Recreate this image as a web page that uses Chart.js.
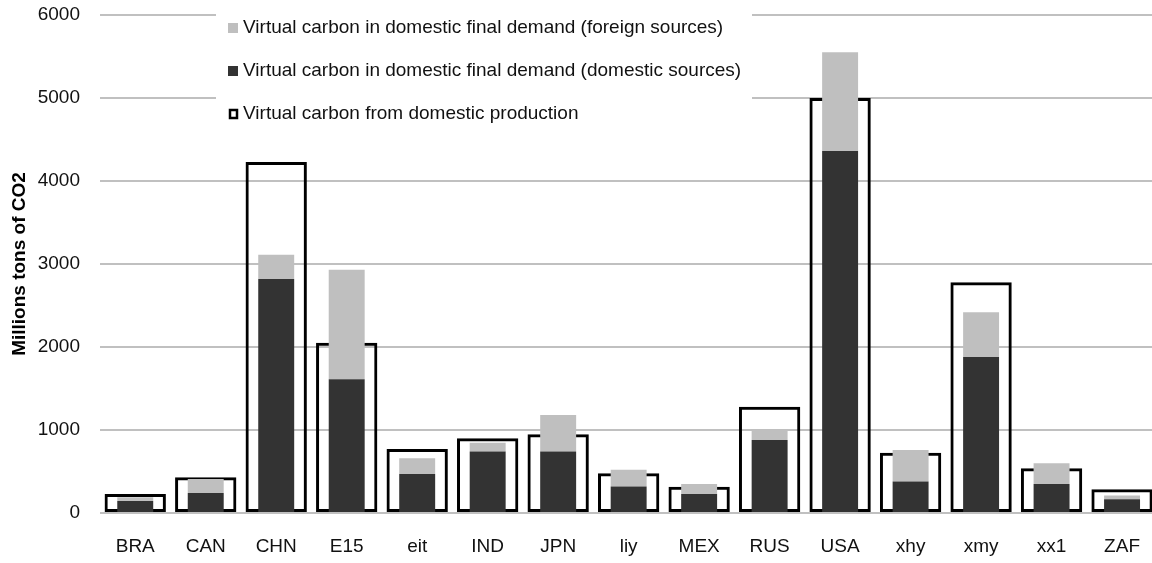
<!DOCTYPE html>
<html>
<head>
<meta charset="utf-8">
<script src="https://cdn.jsdelivr.net/npm/chart.js@4/dist/chart.umd.min.js"></script>
<style>
  html, body { margin: 0; padding: 0; background: #fff; overflow: hidden; }
  #wrap { width: 1162px; height: 563px; }
</style>
</head>
<body>
<div id="wrap"><canvas id="carbonChart"></canvas></div>
<script>
const regions = ['BRA', 'CAN', 'CHN', 'E15', 'eit', 'IND', 'JPN', 'liy', 'MEX', 'RUS', 'USA', 'xhy', 'xmy', 'xx1', 'ZAF'];
const domesticSources = [145, 240, 2820, 1610, 470, 740, 740, 320, 230, 880, 4360, 380, 1880, 350, 165];
const foreignSources = [45, 170, 290, 1320, 190, 105, 440, 200, 120, 130, 1190, 380, 540, 250, 45];
const domesticProduction = [230, 430, 4230, 2050, 770, 900, 950, 480, 315, 1280, 5000, 725, 2780, 540, 285];
const yTicks = [0, 1000, 2000, 3000, 4000, 5000, 6000];

const FONT = "'Liberation Sans', Arial, sans-serif";

// legend box painted over the gridlines, like the original
const legendBox = {
  id: 'legendBox',
  beforeDatasetsDraw(chart) {
    const ctx = chart.ctx;
    const items = [chart.data.datasets[1], chart.data.datasets[0], chart.data.datasets[2]];
    ctx.save();
    ctx.fillStyle = '#ffffff';
    ctx.fillRect(216, 0, 536, 135);
    ctx.font = '19px ' + FONT;
    ctx.textBaseline = 'middle';
    items.forEach((ds, i) => {
      const y = 28 + i * 43;
      if (ds.stack === 'outline') {
        ctx.strokeStyle = '#000';
        ctx.lineWidth = 2.5;
        ctx.strokeRect(230, y - 4, 7, 8);
      } else {
        ctx.fillStyle = ds.backgroundColor;
        ctx.fillRect(228, y - 5, 10, 10);
      }
      ctx.fillStyle = '#111';
      ctx.fillText(ds.label, 243, y);
    });
    ctx.restore();
  }
};

const ctx = document.getElementById('carbonChart').getContext('2d');
new Chart(ctx, {
  type: 'bar',
  data: {
    labels: regions,
    datasets: [
      {
        label: 'Virtual carbon in domestic final demand (domestic sources)',
        data: domesticSources,
        backgroundColor: '#333333',
        stack: 'demand',
        grouped: false,
        barPercentage: 0.51,
        categoryPercentage: 1
      },
      {
        label: 'Virtual carbon in domestic final demand (foreign sources)',
        data: foreignSources,
        backgroundColor: '#bfbfbf',
        stack: 'demand',
        grouped: false,
        barPercentage: 0.51,
        categoryPercentage: 1
      },
      {
        label: 'Virtual carbon from domestic production',
        data: domesticProduction,
        backgroundColor: 'rgba(0,0,0,0)',
        borderColor: '#000000',
        borderWidth: 3,
        borderSkipped: false,
        stack: 'outline',
        grouped: false,
        barPercentage: 0.87,
        categoryPercentage: 1
      }
    ]
  },
  options: {
    responsive: true,
    maintainAspectRatio: false,
    animation: false,
    layout: { padding: { top: 15, right: 0, bottom: 0, left: 0 } },
    plugins: {
      legend: { display: false },
      tooltip: { enabled: false }
    },
    scales: {
      x: {
        stacked: true,
        grid: { display: false, drawTicks: false },
        border: { display: false },
        ticks: { color: '#111', font: { family: FONT, size: 19 }, padding: 22 },
        afterFit(scale) { scale.height = 50; }
      },
      y: {
        stacked: true,
        min: 0,
        max: 6000,
        afterBuildTicks(scale) { scale.ticks = yTicks.map(v => ({ value: v })); },
        grid: { color: '#c0c0c0', lineWidth: 2, drawTicks: false },
        border: { display: false },
        ticks: {
          color: '#111',
          font: { family: FONT, size: 19 },
          padding: 20,
          callback: (v) => String(v)
        },
        title: {
          display: true,
          text: 'Millions tons of CO2',
          color: '#000',
          font: { family: FONT, size: 19, weight: 'bold' },
          padding: { top: 8, bottom: 0 }
        },
        afterFit(scale) {
          scale.width = 100;
          scale.paddingTop = 0;
          scale.paddingBottom = 0;
        }
      }
    }
  },
  plugins: [legendBox]
});
</script>
</body>
</html>
